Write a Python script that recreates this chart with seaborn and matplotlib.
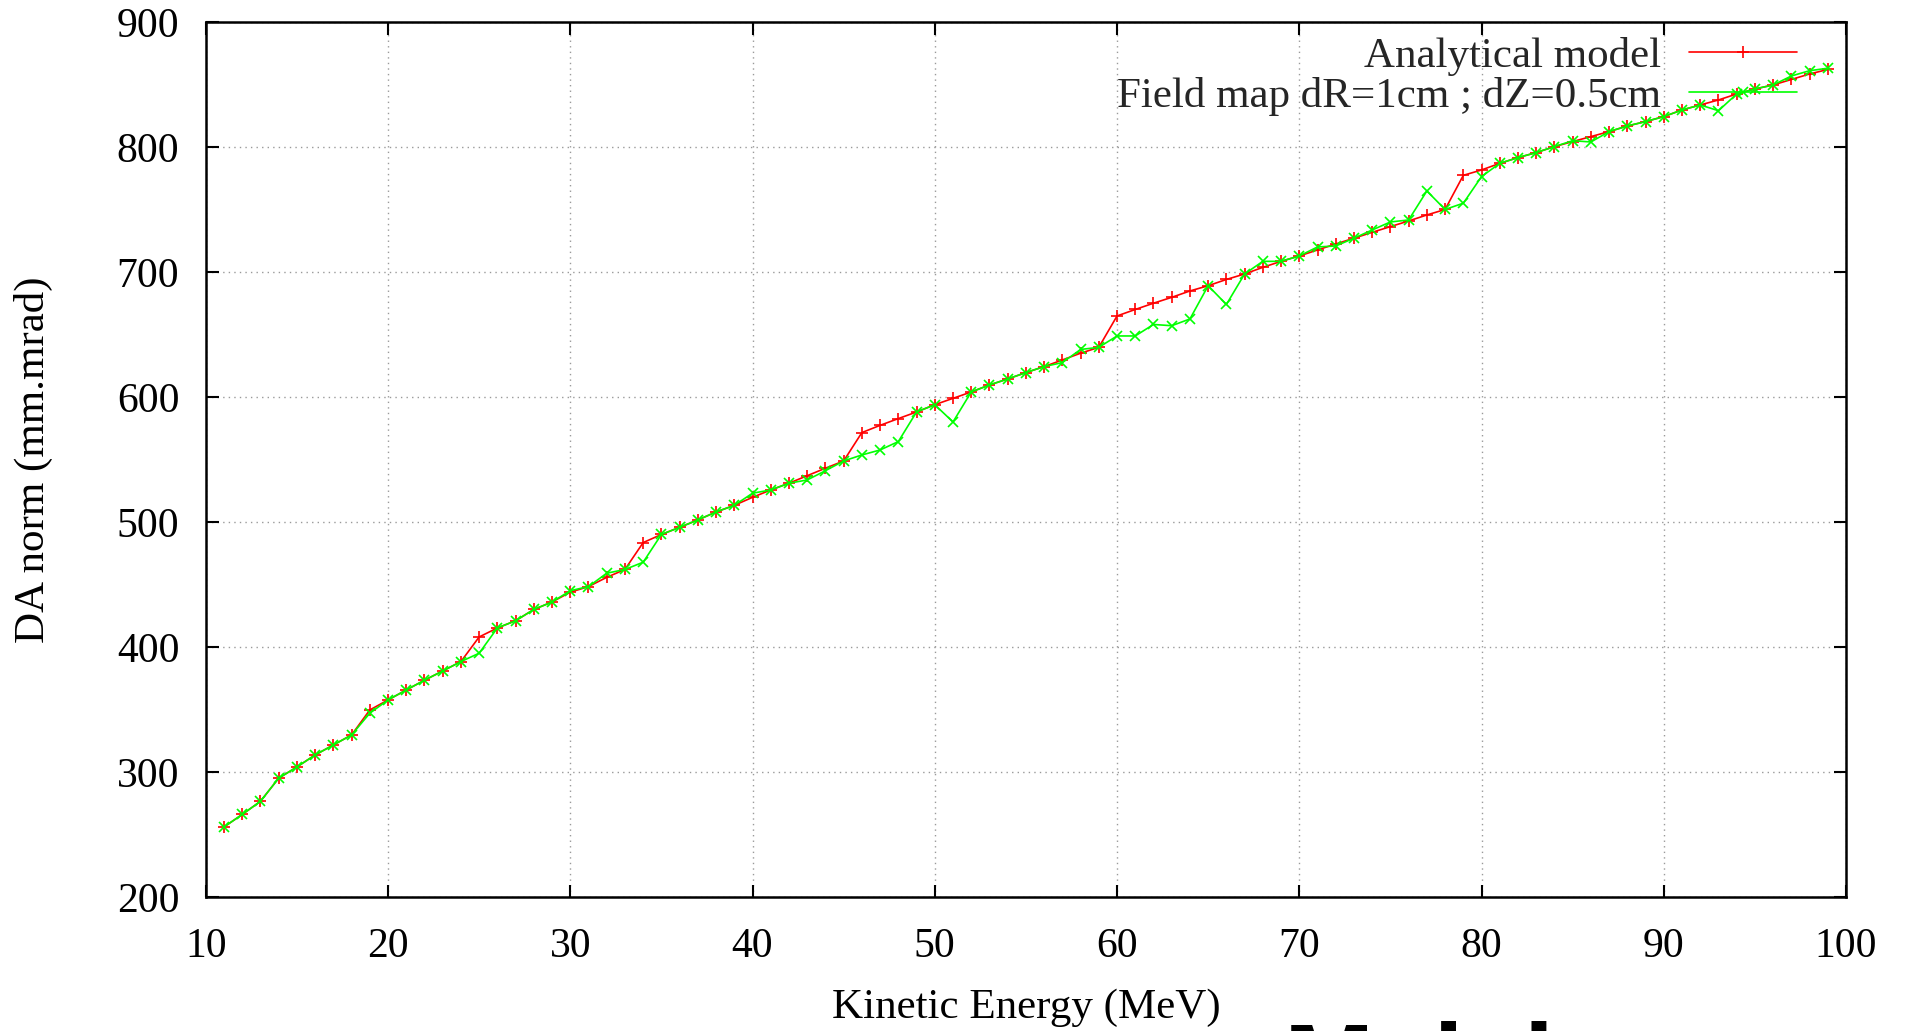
import matplotlib
matplotlib.use("Agg")
import matplotlib.pyplot as plt
import seaborn as sns

# Kinetic energy samples (MeV)
energy = list(range(11, 100))

# Normalised dynamic aperture from the analytical model (mm.mrad)
analytical = [
    256.0, 266.0, 276.5, 295.0, 304.0, 313.6, 321.6, 329.6, 349.6, 357.6,   # 11-20
    365.6, 373.4, 380.8, 388.3, 408.0, 415.2, 421.0, 430.0, 436.0, 443.8,   # 21-30
    448.3, 455.7, 462.0, 483.5, 490.0, 495.7, 501.6, 508.0, 513.3, 519.7,   # 31-40
    525.6, 531.0, 537.0, 543.0, 548.8, 571.5, 577.3, 582.7, 588.0, 593.8,   # 41-50
    598.9, 604.0, 609.6, 614.4, 619.5, 624.3, 629.6, 635.0, 639.7, 664.8,   # 51-60
    670.0, 675.0, 679.7, 684.8, 689.0, 694.0, 698.4, 703.7, 708.5, 712.8,   # 61-70
    717.6, 722.4, 727.0, 731.7, 736.3, 740.8, 745.6, 750.0, 777.3, 781.6,   # 71-80
    786.9, 791.5, 795.5, 800.3, 804.3, 808.3, 812.3, 816.8, 820.3, 824.3,   # 81-90
    829.6, 833.6, 837.6, 842.4, 846.4, 849.6, 854.0, 858.4, 862.0,          # 91-99
]

# Normalised dynamic aperture tracked in the field map (mm.mrad)
field_map = [
    256.0, 266.0, 276.5, 295.0, 304.0, 313.6, 321.6, 329.6, 347.0, 357.6,   # 11-20
    365.6, 373.4, 380.8, 388.3, 395.0, 415.2, 421.0, 430.0, 436.0, 445.0,   # 21-30
    448.3, 459.0, 462.0, 467.8, 490.0, 495.7, 501.6, 508.0, 513.3, 523.0,   # 31-40
    525.6, 531.0, 533.6, 541.0, 548.8, 553.6, 557.6, 564.3, 588.0, 593.8,   # 41-50
    580.0, 604.0, 609.6, 614.4, 619.5, 624.3, 627.5, 638.0, 639.7, 648.8,   # 51-60
    648.8, 658.0, 657.0, 662.4, 689.0, 674.0, 698.4, 708.5, 708.5, 712.8,   # 61-70
    720.0, 720.8, 727.0, 733.6, 740.0, 741.6, 764.8, 750.0, 755.0, 776.3,   # 71-80
    786.9, 791.5, 795.5, 800.3, 805.0, 804.0, 812.3, 816.8, 820.3, 824.3,   # 81-90
    829.6, 833.6, 829.0, 842.4, 846.4, 849.6, 856.8, 861.0, 863.0,          # 91-99
]

x_ticks = [10, 20, 30, 40, 50, 60, 70, 80, 90, 100]
y_ticks = [200, 300, 400, 500, 600, 700, 800, 900]

sns.set_theme(style="white")
plt.rcParams["font.family"] = ["Liberation Serif", "DejaVu Serif"]

fig = plt.figure(figsize=(19.14, 10.31), dpi=100)
ax = fig.add_axes([0.1075, 0.130, 0.857, 0.8487])

sns.lineplot(x=energy, y=analytical, ax=ax, color="#ff0000", lw=1.2,
             marker="+", markersize=9, markeredgewidth=1.2,
             markeredgecolor="#ff0000", label="Analytical model")
sns.lineplot(x=energy, y=field_map, ax=ax, color="#00ff00", lw=1.2,
             marker="x", markersize=7.5, markeredgewidth=1.2,
             markeredgecolor="#00ff00", label="Field map dR=1cm ; dZ=0.5cm")

ax.set_xlim(10, 100)
ax.set_ylim(200, 900)
ax.set_xticks(x_ticks)
ax.set_yticks(y_ticks)

ax.grid(True, color="#9a9a9a", linestyle=(0, (1, 3)), lw=1.0)
for s in ax.spines.values():
    s.set_visible(True)
    s.set_color("black")
    s.set_linewidth(1.8)

ax.tick_params(axis="both", direction="in", length=9, width=1.5,
               top=True, right=True, bottom=True, left=True,
               labelsize=30, colors="black")
ax.tick_params(axis="x", pad=22)
ax.tick_params(axis="y", pad=19)

ax.set_xlabel("Kinetic Energy (MeV)", fontsize=31, color="black")
ax.set_ylabel("DA norm (mm.mrad)", fontsize=31, color="black")
ax.xaxis.set_label_coords(0.5, -0.1045)
ax.yaxis.set_label_coords(-0.093, 0.5)

leg = ax.legend(loc="upper right", bbox_to_anchor=(0.970, 0.9825),
                markerfirst=False, frameon=False, fontsize=31,
                borderaxespad=0, borderpad=0, handlelength=2.5,
                handletextpad=0.65, labelspacing=0.02)
# right-align the legend rows so the labels end flush against the samples
leg._legend_box._children[-1]._children[0].align = "right"

# heading of the following slide, cut off by the page edge
fig.text(1284 / 1914, 1 - 1099 / 1031, "Malak", fontsize=78, weight="bold",
         family="Liberation Sans", color="black", ha="left", va="baseline")

fig.savefig("out.png", dpi=100)
